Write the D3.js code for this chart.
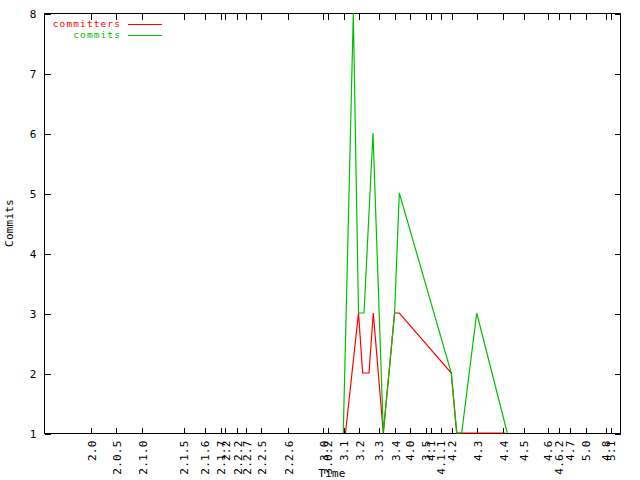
<!DOCTYPE html>
<html>
<head>
<meta charset="utf-8">
<script src="https://cdn.jsdelivr.net/npm/d3@7"></script>
<style>
  html, body { margin: 0; padding: 0; background: #fff; }
  svg { display: block; }
  text { font-family: "DejaVu Sans Mono", "Liberation Mono", monospace; font-size: 11px; letter-spacing: 0.2px; }
  text.legend { font-size: 9.5px; letter-spacing: 1.1px; }
</style>
</head>
<body>
<svg id="chart" width="640" height="480"></svg>
<script>
// ---- Data (x values are time in fractional years) ----
const versionLabels = ["2.0","2.0.5","2.1.0","2.1.5","2.1.6","2.1.7","2.2","2.2.2","2.2.7","2.2.5","2.2.6",
  "3.0","3.0.2","3.1","3.2","3.3","3.4","4.0","3.5","4.1","4.1.1","4.2","4.3","4.4","4.5",
  "4.6","4.6.2","4.7","5.0","4.8","5.1"];
const versionTimes = [2000.973,2001.494,2002.035,2002.902,2003.340,2003.667,2003.765,2004.015,2004.208,2004.515,2005.077,
  2005.806,2005.902,2006.235,2006.556,2006.965,2007.306,2007.610,2007.944,2008.048,2008.250,2008.485,2009.015,2009.556,2009.985,
  2010.485,2010.715,2010.944,2011.271,2011.688,2011.792];

const commitsTimes  = [2006.235,2006.444,2006.552,2006.667,2006.854,2007.069,2007.304,2007.402,2008.485,2008.598,2008.702,2009.015,2009.652];
const commitsValues = [1,8,3,3,6,1,3,5,2,1,1,3,1];

const committersTimes  = [2006.281,2006.552,2006.639,2006.771,2006.860,2007.069,2007.304,2007.402,2008.485,2008.598,2008.702,2009.015,2009.604];
const committersValues = [1,3,2,2,3,1,3,3,2,1,1,1,1];

const yTicks = [1,2,3,4,5,6,7,8];
const xDomain = [2000, 2012];
const yDomain = [1, 8];

const seriesNames = ["committers", "commits"];
const seriesColors = ["#ff0000", "#00c000"];

// ---- Layout ----
const L = 44, R = 620, T = 13, B = 433;
const svg = d3.select("#chart");
const x = d3.scaleLinear().domain(xDomain).range([L, R]);
const y = d3.scaleLinear().domain(yDomain).range([B, T]);

const axes = svg.append("g").attr("shape-rendering", "crispEdges");

// Border
axes.append("rect").attr("x", L + 0.5).attr("y", T + 0.5)
  .attr("width", R - L).attr("height", B - T)
  .attr("fill", "none").attr("stroke", "#000").attr("stroke-width", 1);

// Y axis ticks left and right (inward)
const yAxisL = d3.axisLeft(y).tickValues(yTicks).tickSize(-6).tickPadding(8).tickFormat(d3.format("d"));
const gyl = axes.append("g").attr("transform", `translate(${L + 0.5},0.5)`).call(yAxisL);
gyl.select(".domain").remove();
gyl.selectAll("text").attr("font-size", null).attr("font-family", null).attr("fill", "#000");

const yAxisR = d3.axisRight(y).tickValues(yTicks).tickSize(-6).tickFormat("");
const gyr = axes.append("g").attr("transform", `translate(${R + 0.5},0.5)`).call(yAxisR);
gyr.select(".domain").remove();

// X axis ticks bottom and top (inward)
const xAxisB = d3.axisBottom(x).tickValues(versionTimes).tickSize(-6)
  .tickFormat((d, i) => versionLabels[i]);
const gxb = axes.append("g").attr("transform", `translate(0.5,${B + 0.5})`).call(xAxisB);
gxb.select(".domain").remove();
gxb.selectAll("text")
  .attr("font-size", null).attr("font-family", null).attr("fill", "#000")
  .attr("transform", "rotate(-90)")
  .attr("text-anchor", "end")
  .attr("x", -7).attr("y", 0).attr("dy", "0.35em");

const xAxisT = d3.axisTop(x).tickValues(versionTimes).tickSize(-6).tickFormat("");
const gxt = axes.append("g").attr("transform", `translate(0.5,${T + 0.5})`).call(xAxisT);
gxt.select(".domain").remove();

// Axis titles
svg.append("text").attr("transform", `translate(13,${(T + B) / 2}) rotate(-90)`)
  .attr("text-anchor", "middle").text("Commits");
svg.append("text").attr("x", (L + R) / 2).attr("y", 477)
  .attr("text-anchor", "middle").text("Time");

// Series lines
const plot = svg.append("g");
const line = d3.line().x(d => x(d[0])).y(d => y(d[1]));
const seriesData = [
  d3.zip(committersTimes, committersValues),
  d3.zip(commitsTimes, commitsValues)
];
seriesData.forEach((pts, i) => {
  plot.append("path").datum(pts)
    .attr("d", line)
    .attr("fill", "none")
    .attr("stroke", seriesColors[i])
    .attr("stroke-width", 1.2);
});

// Legend
const legend = svg.append("g");
seriesNames.forEach((name, i) => {
  const ly = 24 + i * 11;
  legend.append("text").attr("class", "legend").attr("x", 121).attr("y", ly).attr("dy", "0.35em")
    .attr("text-anchor", "end").attr("fill", seriesColors[i]).text(name);
  legend.append("line").attr("x1", 128).attr("x2", 162).attr("y1", ly + 0.5).attr("y2", ly + 0.5)
    .attr("stroke", seriesColors[i]).attr("stroke-width", 1.2)
    .attr("shape-rendering", "crispEdges");
});
</script>
</body>
</html>
